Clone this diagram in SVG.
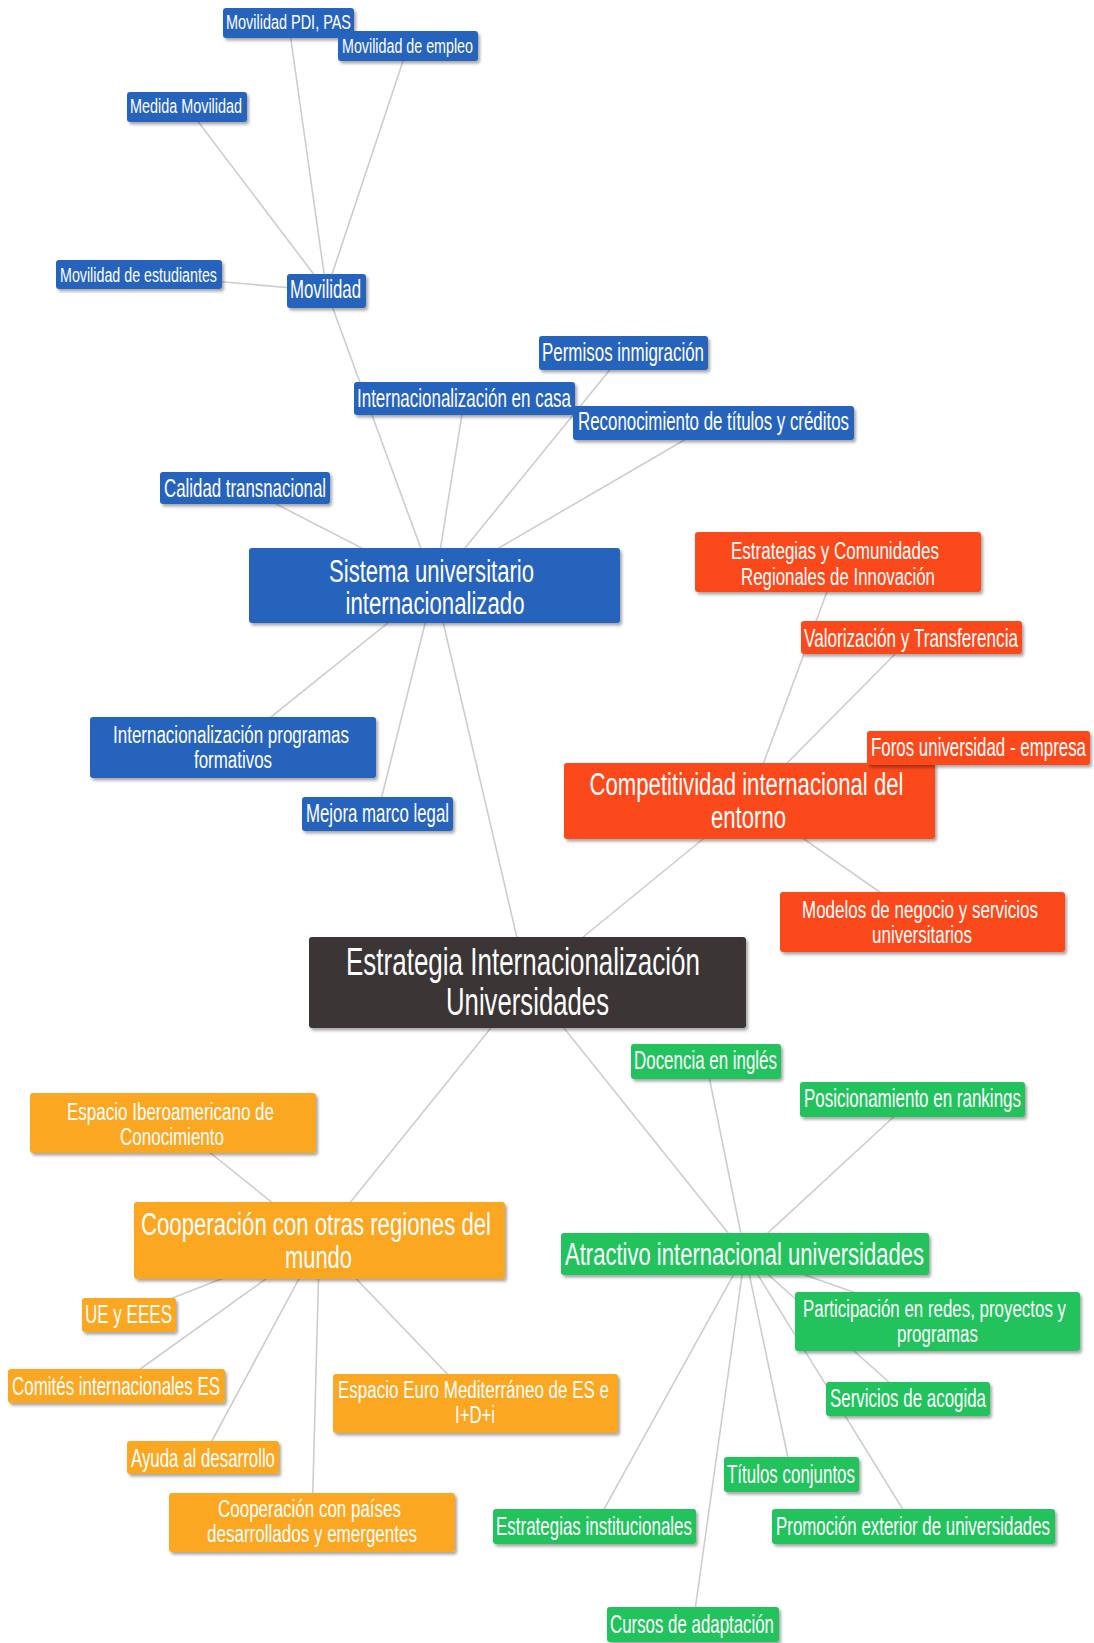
<svg xmlns="http://www.w3.org/2000/svg" width="1094" height="1643" viewBox="0 0 1094 1643">
<defs>
<filter id="sh" x="-10%" y="-20%" width="120%" height="150%">
<feDropShadow dx="2" dy="2.5" stdDeviation="1.6" flood-color="#000" flood-opacity="0.35"/>
</filter>
<style>
rect{filter:url(#sh)}
.b{fill:#2763bd}
.r{fill:#fc4a1b}
.o{fill:#fba724}
.g{fill:#21c35d}
.k{fill:#3b3634}
text{fill:#fff;font-family:"Liberation Sans Narrow","Liberation Sans",Arial,sans-serif}
.s{font-size:20px}
.m{font-size:25px}
.t{font-size:23px}
.l{font-size:31px}
.c{font-size:39px}
#edges line{stroke:#cdcdcd;stroke-width:1.6}
</style>
</defs>
<rect width="1094" height="1643" fill="#fff" style="filter:none"/>
<g id="edges">
<line x1="326.5" y1="291" x2="288.5" y2="22.5"/>
<line x1="326.5" y1="291" x2="408" y2="46"/>
<line x1="326.5" y1="291" x2="187" y2="107"/>
<line x1="326.5" y1="291" x2="139" y2="274.5"/>
<line x1="434.5" y1="585.5" x2="326.5" y2="291"/>
<line x1="434.5" y1="585.5" x2="464.5" y2="398.5"/>
<line x1="434.5" y1="585.5" x2="623.5" y2="353"/>
<line x1="434.5" y1="585.5" x2="713.5" y2="423"/>
<line x1="434.5" y1="585.5" x2="245" y2="488"/>
<line x1="434.5" y1="585.5" x2="233" y2="747.5"/>
<line x1="434.5" y1="585.5" x2="377.5" y2="814"/>
<line x1="527.5" y1="982.5" x2="434.5" y2="585.5"/>
<line x1="527.5" y1="982.5" x2="749.5" y2="801"/>
<line x1="527.5" y1="982.5" x2="319.5" y2="1240.5"/>
<line x1="527.5" y1="982.5" x2="745" y2="1254"/>
<line x1="749.5" y1="801" x2="838" y2="562"/>
<line x1="749.5" y1="801" x2="911.5" y2="637.5"/>
<line x1="749.5" y1="801" x2="978.5" y2="748"/>
<line x1="749.5" y1="801" x2="922.5" y2="922"/>
<line x1="319.5" y1="1240.5" x2="173" y2="1123"/>
<line x1="319.5" y1="1240.5" x2="129" y2="1315"/>
<line x1="319.5" y1="1240.5" x2="116.5" y2="1386"/>
<line x1="319.5" y1="1240.5" x2="203" y2="1457.5"/>
<line x1="319.5" y1="1240.5" x2="312" y2="1522.5"/>
<line x1="319.5" y1="1240.5" x2="475.5" y2="1403.5"/>
<line x1="745" y1="1254" x2="706" y2="1061.5"/>
<line x1="745" y1="1254" x2="912.5" y2="1099.5"/>
<line x1="745" y1="1254" x2="937.5" y2="1321.5"/>
<line x1="745" y1="1254" x2="908" y2="1399"/>
<line x1="745" y1="1254" x2="791.5" y2="1474.5"/>
<line x1="745" y1="1254" x2="594.5" y2="1526.5"/>
<line x1="745" y1="1254" x2="913.5" y2="1526.5"/>
<line x1="745" y1="1254" x2="693" y2="1624.5"/>
</g>
<g id="n-pdi"><rect class="b" x="223" y="8" width="131" height="30" rx="3"/><text class="s" x="226" y="29" textLength="125" lengthAdjust="spacingAndGlyphs">Movilidad PDI, PAS</text></g>
<g id="n-empleo"><rect class="b" x="338" y="31" width="140" height="30" rx="3"/><text class="s" x="342" y="53" textLength="131" lengthAdjust="spacingAndGlyphs">Movilidad de empleo</text></g>
<g id="n-medida"><rect class="b" x="127" y="92" width="120" height="30" rx="3"/><text class="s" x="130" y="113" textLength="112" lengthAdjust="spacingAndGlyphs">Medida Movilidad</text></g>
<g id="n-estudiantes"><rect class="b" x="56" y="260" width="166" height="29" rx="3"/><text class="s" x="60" y="282" textLength="157" lengthAdjust="spacingAndGlyphs">Movilidad de estudiantes</text></g>
<g id="n-movilidad"><rect class="b" x="287" y="274" width="79" height="34" rx="3"/><text class="m" x="290" y="298" textLength="71" lengthAdjust="spacingAndGlyphs">Movilidad</text></g>
<g id="n-casa"><rect class="b" x="354" y="382" width="221" height="33" rx="3"/><text class="m" x="357" y="407" textLength="214" lengthAdjust="spacingAndGlyphs">Internacionalización en casa</text></g>
<g id="n-permisos"><rect class="b" x="539" y="336" width="169" height="34" rx="3"/><text class="m" x="542" y="361" textLength="162" lengthAdjust="spacingAndGlyphs">Permisos inmigración</text></g>
<g id="n-reconocimiento"><rect class="b" x="573" y="406" width="281" height="34" rx="3"/><text class="m" x="578" y="430" textLength="271" lengthAdjust="spacingAndGlyphs">Reconocimiento de títulos y créditos</text></g>
<g id="n-calidad"><rect class="b" x="160" y="472" width="170" height="32" rx="3"/><text class="m" x="164" y="497" textLength="162" lengthAdjust="spacingAndGlyphs">Calidad transnacional</text></g>
<g id="n-sistema"><rect class="b" x="249" y="548" width="371" height="75" rx="3"/><text class="l" x="329" y="582" textLength="205" lengthAdjust="spacingAndGlyphs">Sistema universitario</text><text class="l" x="345.5" y="614" textLength="179" lengthAdjust="spacingAndGlyphs">internacionalizado</text></g>
<g id="n-programas"><rect class="b" x="90" y="717" width="286" height="61" rx="3"/><text class="t" x="113" y="743" textLength="236" lengthAdjust="spacingAndGlyphs">Internacionalización programas</text><text class="t" x="194" y="768" textLength="78" lengthAdjust="spacingAndGlyphs">formativos</text></g>
<g id="n-mejora"><rect class="b" x="302" y="797" width="151" height="34" rx="3"/><text class="m" x="306" y="822" textLength="143" lengthAdjust="spacingAndGlyphs">Mejora marco legal</text></g>
<g id="n-comunidades"><rect class="r" x="695" y="532" width="286" height="60" rx="3"/><text class="t" x="731" y="559" textLength="208" lengthAdjust="spacingAndGlyphs">Estrategias y Comunidades</text><text class="t" x="741" y="585" textLength="194" lengthAdjust="spacingAndGlyphs">Regionales de Innovación</text></g>
<g id="n-valorizacion"><rect class="r" x="801" y="621" width="221" height="33" rx="3"/><text class="m" x="804" y="647" textLength="214" lengthAdjust="spacingAndGlyphs">Valorización y Transferencia</text></g>
<g id="n-competitividad"><rect class="r" x="564" y="763" width="371" height="76" rx="3"/><text class="l" x="589.5" y="795" textLength="314" lengthAdjust="spacingAndGlyphs">Competitividad internacional del</text><text class="l" x="711" y="828" textLength="75" lengthAdjust="spacingAndGlyphs">entorno</text></g>
<g id="n-foros"><rect class="r" x="867" y="731" width="223" height="34" rx="3"/><text class="m" x="871" y="756" textLength="215" lengthAdjust="spacingAndGlyphs">Foros universidad - empresa</text></g>
<g id="n-modelos"><rect class="r" x="780" y="892" width="285" height="60" rx="3"/><text class="t" x="802" y="918" textLength="236" lengthAdjust="spacingAndGlyphs">Modelos de negocio y servicios</text><text class="t" x="872" y="943" textLength="100" lengthAdjust="spacingAndGlyphs">universitarios</text></g>
<g id="n-central"><rect class="k" x="309" y="937" width="437" height="91" rx="3"/><text class="c" x="346" y="975" textLength="354" lengthAdjust="spacingAndGlyphs">Estrategia Internacionalización</text><text class="c" x="446" y="1015" textLength="163" lengthAdjust="spacingAndGlyphs">Universidades</text></g>
<g id="n-docencia"><rect class="g" x="631" y="1044" width="150" height="35" rx="3"/><text class="m" x="634" y="1069" textLength="143" lengthAdjust="spacingAndGlyphs">Docencia en inglés</text></g>
<g id="n-rankings"><rect class="g" x="800" y="1082" width="225" height="35" rx="3"/><text class="m" x="804" y="1107" textLength="217" lengthAdjust="spacingAndGlyphs">Posicionamiento en rankings</text></g>
<g id="n-atractivo"><rect class="g" x="561" y="1233" width="368" height="42" rx="3"/><text class="l" x="565" y="1265" textLength="359" lengthAdjust="spacingAndGlyphs">Atractivo internacional universidades</text></g>
<g id="n-participacion"><rect class="g" x="795" y="1292" width="285" height="59" rx="3"/><text class="t" x="803" y="1317" textLength="263" lengthAdjust="spacingAndGlyphs">Participación en redes, proyectos y</text><text class="t" x="897" y="1342" textLength="81" lengthAdjust="spacingAndGlyphs">programas</text></g>
<g id="n-servicios"><rect class="g" x="826" y="1382" width="164" height="34" rx="3"/><text class="m" x="830" y="1407" textLength="156" lengthAdjust="spacingAndGlyphs">Servicios de acogida</text></g>
<g id="n-titulos"><rect class="g" x="724" y="1457" width="135" height="35" rx="3"/><text class="m" x="727" y="1483" textLength="128" lengthAdjust="spacingAndGlyphs">Títulos conjuntos</text></g>
<g id="n-institucionales"><rect class="g" x="493" y="1509" width="203" height="35" rx="3"/><text class="m" x="496" y="1535" textLength="196" lengthAdjust="spacingAndGlyphs">Estrategias institucionales</text></g>
<g id="n-promocion"><rect class="g" x="772" y="1509" width="283" height="35" rx="3"/><text class="m" x="776" y="1535" textLength="274" lengthAdjust="spacingAndGlyphs">Promoción exterior de universidades</text></g>
<g id="n-cursos"><rect class="g" x="607" y="1607" width="172" height="35" rx="3"/><text class="m" x="610" y="1633" textLength="164" lengthAdjust="spacingAndGlyphs">Cursos de adaptación</text></g>
<g id="n-iberoamericano"><rect class="o" x="30" y="1093" width="286" height="60" rx="3"/><text class="t" x="67" y="1120" textLength="207" lengthAdjust="spacingAndGlyphs">Espacio Iberoamericano de</text><text class="t" x="120" y="1145" textLength="104" lengthAdjust="spacingAndGlyphs">Conocimiento</text></g>
<g id="n-cooperacion"><rect class="o" x="134" y="1202" width="371" height="77" rx="3"/><text class="l" x="141" y="1235" textLength="350" lengthAdjust="spacingAndGlyphs">Cooperación con otras regiones del</text><text class="l" x="285" y="1268" textLength="67" lengthAdjust="spacingAndGlyphs">mundo</text></g>
<g id="n-ue"><rect class="o" x="82" y="1298" width="94" height="34" rx="3"/><text class="m" x="85" y="1323" textLength="87" lengthAdjust="spacingAndGlyphs">UE y EEES</text></g>
<g id="n-comites"><rect class="o" x="8" y="1369" width="217" height="34" rx="3"/><text class="m" x="12" y="1395" textLength="208" lengthAdjust="spacingAndGlyphs">Comités internacionales ES</text></g>
<g id="n-ayuda"><rect class="o" x="127" y="1441" width="152" height="33" rx="3"/><text class="m" x="131" y="1467" textLength="144" lengthAdjust="spacingAndGlyphs">Ayuda al desarrollo</text></g>
<g id="n-paises"><rect class="o" x="169" y="1493" width="286" height="59" rx="3"/><text class="t" x="218" y="1517" textLength="183" lengthAdjust="spacingAndGlyphs">Cooperación con países</text><text class="t" x="207" y="1542" textLength="210" lengthAdjust="spacingAndGlyphs">desarrollados y emergentes</text></g>
<g id="n-euromed"><rect class="o" x="333" y="1374" width="285" height="59" rx="3"/><text class="t" x="338" y="1398" textLength="271" lengthAdjust="spacingAndGlyphs">Espacio Euro Mediterráneo de ES e</text><text class="t" x="455" y="1423" textLength="40" lengthAdjust="spacingAndGlyphs">I+D+i</text></g>
</svg>
